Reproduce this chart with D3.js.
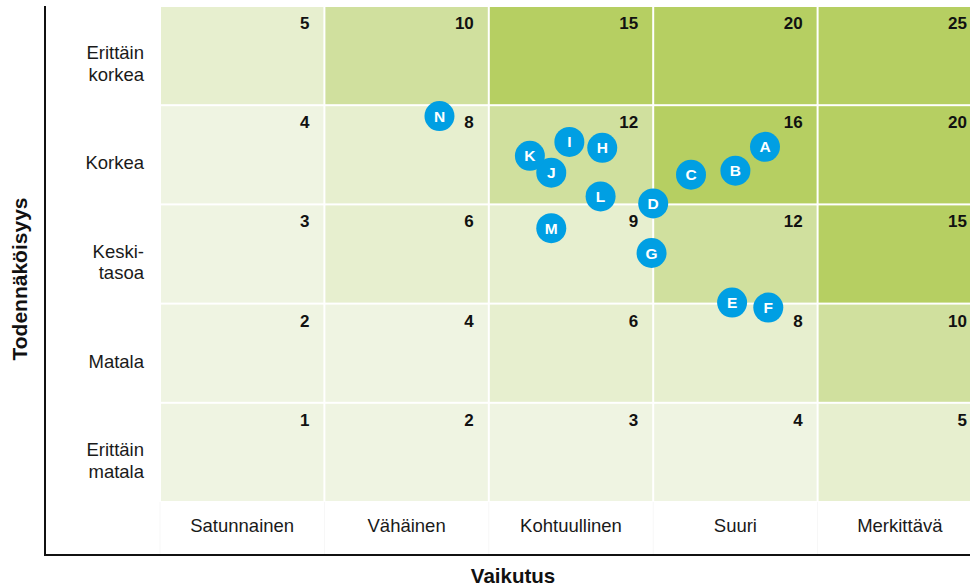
<!DOCTYPE html>
<html>
<head>
<meta charset="utf-8">
<script src="https://cdnjs.cloudflare.com/ajax/libs/d3/7.8.5/d3.min.js"></script>
<style>
  html, body { margin: 0; padding: 0; background: #fff; }
  svg { display: block; font-family: "Liberation Sans", Arial, Helvetica, sans-serif; }
</style>
</head>
<body>
<svg id="chart" width="970" height="588"></svg>
<script>
// Impact (x) and likelihood (y) category labels
const impactLabels = ["Satunnainen", "Vähäinen", "Kohtuullinen", "Suuri", "Merkittävä"];
const likelihoodLabels = [["Erittäin", "matala"], ["Matala"], ["Keski-", "tasoa"], ["Korkea"], ["Erittäin", "korkea"]];

// Risk score per cell, rows from likelihood 1 (bottom) to 5 (top)
const scoreRows = [
  [1, 2, 3, 4, 5],
  [2, 4, 6, 8, 10],
  [3, 6, 9, 12, 15],
  [4, 8, 12, 16, 20],
  [5, 10, 15, 20, 25]
];

// Risk items: letter, impact position, likelihood position
const riskIds = ["A", "B", "C", "D", "E", "F", "G", "H", "I", "J", "K", "L", "M", "N"];
const riskImpact = [4.18, 4.00, 3.73, 3.50, 3.98, 4.20, 3.49, 3.19, 2.99, 2.88, 2.75, 3.18, 2.88, 2.20];
const riskLikelihood = [4.08, 3.84, 3.80, 3.51, 2.51, 2.46, 3.01, 4.07, 4.13, 3.82, 3.99, 3.58, 3.26, 4.39];

// Colour bands by score
const levelThresholds = [5, 10, 15];
const levelColors = ["#eff4e2", "#e7efcf", "#d0e09e", "#b6cf62"];

const svg = d3.select("#chart");
const W = 970, H = 588;
const grid = { left: 160, right: 982, top: 6, bottom: 502 };

const x = d3.scaleLinear().domain([0.5, 5.5]).range([grid.left, grid.right]);
const y = d3.scaleLinear().domain([0.5, 5.5]).range([grid.bottom, grid.top]);
const color = d3.scaleThreshold().domain(levelThresholds).range(levelColors);

// Cells
const cells = [];
scoreRows.forEach((row, ri) => row.forEach((s, ci) => cells.push({ imp: ci + 1, lik: ri + 1, score: s })));

const gap = 1;
svg.append("g").selectAll("rect").data(cells).join("rect")
  .attr("x", d => x(d.imp - 0.5) + gap)
  .attr("y", d => y(d.lik + 0.5) + gap)
  .attr("width", d => x(d.imp + 0.5) - x(d.imp - 0.5) - 2 * gap)
  .attr("height", d => y(d.lik - 0.5) - y(d.lik + 0.5) - 2 * gap)
  .attr("fill", d => color(d.score));

svg.append("g").selectAll("text").data(cells).join("text")
  .attr("x", d => x(d.imp + 0.5) - 15)
  .attr("y", d => y(d.lik + 0.5) + 23)
  .attr("text-anchor", "end")
  .attr("font-size", 17)
  .attr("font-weight", "bold")
  .attr("fill", "#111")
  .text(d => d.score);

// Faint column guides below the grid
svg.append("g").selectAll("line").data(d3.range(0, 5)).join("line")
  .attr("x1", d => x(d + 0.5)).attr("x2", d => x(d + 0.5))
  .attr("y1", grid.bottom).attr("y2", 555)
  .attr("stroke", "#f7f7f7").attr("stroke-width", 1);

// Axis lines
svg.append("line").attr("x1", 45).attr("x2", 45).attr("y1", 6).attr("y2", 556)
  .attr("stroke", "#111").attr("stroke-width", 2);
svg.append("line").attr("x1", 44).attr("x2", W).attr("y1", 555).attr("y2", 555)
  .attr("stroke", "#111").attr("stroke-width", 2);

// Impact category labels
svg.append("g").selectAll("text").data(impactLabels).join("text")
  .attr("x", (d, i) => x(i + 1))
  .attr("y", 532)
  .attr("text-anchor", "middle")
  .attr("font-size", 18.5)
  .attr("fill", "#1a1a1a")
  .text(d => d);

// Likelihood category labels
const lineH = 21.5;
const likG = svg.append("g").selectAll("text").data(likelihoodLabels).join("text")
  .attr("text-anchor", "end")
  .attr("font-size", 18.5)
  .attr("fill", "#1a1a1a");
likG.each(function (lines, i) {
  const cy = y(i + 1) + 8;
  const first = cy - (lines.length - 1) * lineH / 2 + 6.6;
  d3.select(this).selectAll("tspan").data(lines).join("tspan")
    .attr("x", 144)
    .attr("y", (l, k) => first + k * lineH)
    .text(l => l);
});

// Axis titles
svg.append("text").attr("x", 513).attr("y", 583)
  .attr("text-anchor", "middle").attr("font-size", 20.5).attr("font-weight", "bold")
  .attr("fill", "#111").text("Vaikutus");
svg.append("text")
  .attr("transform", "translate(27,279) rotate(-90)")
  .attr("text-anchor", "middle").attr("font-size", 21).attr("font-weight", "bold")
  .attr("fill", "#111").text("Todennäköisyys");

// Risk markers
const risks = riskIds.map((id, i) => ({ id, imp: riskImpact[i], lik: riskLikelihood[i] }));
const mk = svg.append("g").selectAll("g").data(risks).join("g")
  .attr("transform", d => `translate(${x(d.imp)},${y(d.lik)})`);
mk.append("circle").attr("r", 15).attr("fill", "#009fe3");
mk.append("text")
  .attr("text-anchor", "middle")
  .attr("dy", "0.36em")
  .attr("font-size", 15.5)
  .attr("font-weight", "bold")
  .attr("fill", "#fff")
  .text(d => d.id);
</script>
</body>
</html>
